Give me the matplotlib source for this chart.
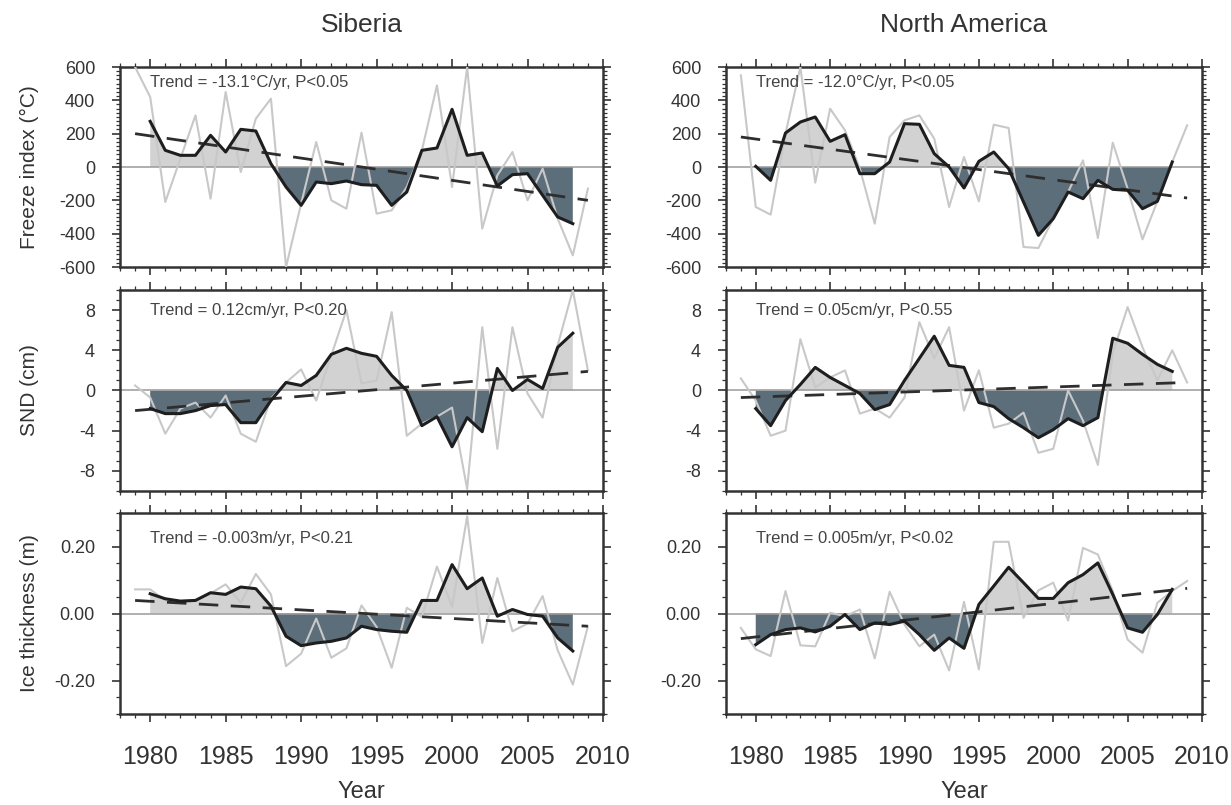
import numpy as np
import matplotlib.pyplot as plt
from matplotlib.ticker import MultipleLocator, FixedLocator

plt.rcParams['font.family'] = ['Liberation Sans', 'DejaVu Sans']
plt.rcParams['axes.unicode_minus'] = False

# years of the annual (thin grey) series and of the smoothed (thick black) series
years = np.arange(1979, 2010)
years_smooth = np.arange(1980, 2009)
trend_years = [1979, 2009]

regions = ['Siberia', 'North America']
ylabels = ['Freeze index (\u00b0C)', 'SND (cm)', 'Ice thickness (m)']

# --- freeze index (degC) ---
sib_freeze = [600, 420, -210, 50, 310, -190, 450, -30, 290, 410, -600, -220, 150, -200,
              -250, 206, -280, -260, -120, 100, 490, -120, 600, -370, -50, 90, -200, -10,
              -310, -530, -130]
sib_freeze_smooth = [274, 100, 70, 70, 190, 90, 226, 216, 20, -120, -230, -90, -100, -84,
                     -106, -110, -230, -150, 100, 114, 346, 70, 84, -114, -46, -40, -170,
                     -300, -340]
sib_freeze_trend = [200, -200]

na_freeze = [550, -240, -286, 200, 600, -94, 350, 220, -10, -340, 180, 280, 310, 170, -240,
             60, -206, 254, 234, -480, -486, -310, -150, 40, -426, 146, -130, -434, -206,
             30, 250]
na_freeze_smooth = [4, -80, 204, 270, 300, 154, 194, -40, -40, 30, 260, 256, 80, 0, -126,
                    34, 90, -10, -210, -410, -310, -150, -190, -80, -134, -140, -250, -206, 30]
na_freeze_trend = [180, -186]

# --- snow depth (cm) ---
sib_snd = [0.5, -0.7, -4.3, -1.8, -1.2, -2.7, -0.5, -4.3, -5.1, -0.8, 0.8, 2.1, -1.0, 3.5,
           8.0, 0.7, 1.0, 7.8, -4.5, -3.3, -2.6, -1.7, -9.8, 6.3, -5.8, 6.3, -0.3, -2.7,
           4.5, 10.0, 2.0]
sib_snd_smooth = [-1.8, -2.3, -2.3, -2.0, -1.5, -1.4, -3.2, -3.2, -1.0, 0.8, 0.5, 1.5, 3.6,
                  4.2, 3.7, 3.4, 1.5, 0.0, -3.5, -2.6, -5.6, -2.7, -4.1, 2.2, 0.0, 1.1, 0.2,
                  4.3, 5.7]
sib_snd_trend = [-2.0, 1.9]

na_snd = [1.2, -1.0, -4.5, -4.0, 5.1, 0.3, 1.3, 2.0, -2.3, -1.8, -2.7, -0.7, 6.8, 3.2, 6.3,
          -2.0, 2.0, -3.7, -3.3, -2.2, -6.2, -5.8, 0.0, -3.0, -7.4, 3.7, 8.3, 4.3, 1.0, 4.0,
          0.8]
na_snd_smooth = [-1.8, -3.5, -1.0, 0.6, 2.3, 1.3, 0.5, -0.3, -1.9, -1.4, 1.0, 3.2, 5.4, 2.5,
                 2.3, -1.2, -1.6, -2.8, -3.7, -4.7, -3.9, -2.8, -3.5, -2.7, 5.2, 4.7, 3.6,
                 2.6, 1.9]
na_snd_trend = [-0.7, 0.8]

# --- ice thickness (m) ---
sib_ice = [0.072, 0.072, 0.039, 0.037, 0.040, 0.060, 0.087, 0.032, 0.118, 0.057, -0.157,
           -0.120, -0.015, -0.132, -0.104, 0.024, -0.040, -0.162, 0.017, -0.010, 0.140,
           0.020, 0.290, -0.088, 0.106, -0.053, -0.030, 0.052, -0.110, -0.212, -0.038]
sib_ice_smooth = [0.059, 0.044, 0.037, 0.039, 0.062, 0.057, 0.079, 0.074, 0.022, -0.068,
                  -0.096, -0.088, -0.083, -0.073, -0.038, -0.048, -0.053, -0.056, 0.039,
                  0.039, 0.146, 0.074, 0.106, -0.008, 0.012, -0.003, -0.008, -0.073, -0.112]
sib_ice_trend = [0.039, -0.038]

na_ice = [-0.043, -0.107, -0.127, 0.067, -0.095, -0.098, 0.002, -0.008, 0.012, -0.134,
          0.065, -0.033, -0.098, -0.063, -0.170, 0.035, -0.167, 0.214, 0.214, -0.013, 0.069,
          0.092, -0.021, 0.196, 0.176, 0.067, -0.078, -0.117, 0.032, 0.067, 0.097]
na_ice_smooth = [-0.093, -0.063, -0.048, -0.043, -0.055, -0.038, -0.003, -0.048, -0.028,
                 -0.033, -0.023, -0.063, -0.110, -0.073, -0.104, 0.027, 0.082, 0.138, 0.092,
                 0.045, 0.045, 0.092, 0.116, 0.151, 0.057, -0.043, -0.056, -0.003, 0.072]
na_ice_trend = [-0.075, 0.075]

trend_texts = [['Trend = -13.1\u00b0C/yr, P<0.05', 'Trend = -12.0\u00b0C/yr, P<0.05'],
               ['Trend = 0.12cm/yr, P<0.20', 'Trend = 0.05cm/yr, P<0.55'],
               ['Trend = -0.003m/yr, P<0.21', 'Trend = 0.005m/yr, P<0.02']]

panels = [[(sib_freeze, sib_freeze_smooth, sib_freeze_trend), (na_freeze, na_freeze_smooth, na_freeze_trend)],
          [(sib_snd, sib_snd_smooth, sib_snd_trend), (na_snd, na_snd_smooth, na_snd_trend)],
          [(sib_ice, sib_ice_smooth, sib_ice_trend), (na_ice, na_ice_smooth, na_ice_trend)]]

# per-row axis settings
ylims = [(-600, 600), (-10, 10), (-0.3, 0.3)]
yticks = [[-600, -400, -200, 0, 200, 400, 600], [-8, -4, 0, 4, 8], [-0.2, 0.0, 0.2]]
yminor = [25, 1, 0.05]
yfmt = ['{:.0f}', '{:.0f}', '{:.2f}']
text_y = [0.925, 0.9, 0.875]

W, H = 1231, 805
col_x = [(120, 483), (726, 476)]
row_y = [(67, 200), (290, 201), (513, 201)]

fig = plt.figure(figsize=(W / 100, H / 100), dpi=100)
dark = '#333333'

for r in range(3):
    for c in range(2):
        x0, w = col_x[c]
        y0, h = row_y[r]
        ax = fig.add_axes([x0 / W, 1 - (y0 + h) / H, w / W, h / H])
        annual, smooth, trend = panels[r][c]
        sm = np.array(smooth)

        ax.fill_between(years_smooth, sm, 0, where=sm >= 0, interpolate=True,
                        color='#d2d2d2', lw=0, zorder=1)
        ax.fill_between(years_smooth, sm, 0, where=sm <= 0, interpolate=True,
                        color='#5d6e7b', lw=0, zorder=1)
        ax.axhline(0, color='#9a9a9a', lw=1.1, zorder=2)
        ax.plot(years, annual, color='#c8c8c8', lw=1.5, zorder=3)
        ax.plot(trend_years, trend, color='#2e2e2e', lw=2.0, dashes=(7, 4.5), zorder=4)
        ax.plot(years_smooth, smooth, color='#1e1e1e', lw=2.2, zorder=5)

        ax.set_xlim(1978, 2010)
        ax.set_ylim(*ylims[r])
        ax.xaxis.set_major_locator(MultipleLocator(5))
        ax.xaxis.set_minor_locator(MultipleLocator(1))
        ax.yaxis.set_major_locator(FixedLocator(yticks[r]))
        ax.yaxis.set_minor_locator(MultipleLocator(yminor[r]))
        ax.set_yticklabels([yfmt[r].format(v) for v in yticks[r]])

        ax.tick_params(which='both', direction='out', top=True, right=True,
                       color=dark, labelcolor=dark)
        ax.tick_params(which='major', length=6, width=1.2)
        ax.tick_params(which='minor', length=3, width=0.9)
        ax.tick_params(axis='y', labelsize=13, pad=12)
        ax.tick_params(axis='x', labelsize=18, pad=16)
        if r < 2:
            ax.tick_params(axis='x', labelbottom=False)
        for s in ax.spines.values():
            s.set_color(dark)
            s.set_linewidth(1.8)

        ax.text(0.063, text_y[r], trend_texts[r][c], transform=ax.transAxes,
                fontsize=12, color='#444444', va='center', ha='left', zorder=6)

        if c == 0:
            ax.set_ylabel(ylabels[r], fontsize=15, color=dark)
            ax.yaxis.set_label_coords(-0.168, 0.5)

        if r == 0:
            fig.text((x0 + w / 2) / W, 1 - 25 / H, regions[c], fontsize=19,
                     color=dark, ha='center', va='center')
        if r == 2:
            fig.text((x0 + w / 2) / W, 1 - 792 / H, 'Year', fontsize=17,
                     color=dark, ha='center', va='center')

fig.savefig('out.png', dpi=100)
